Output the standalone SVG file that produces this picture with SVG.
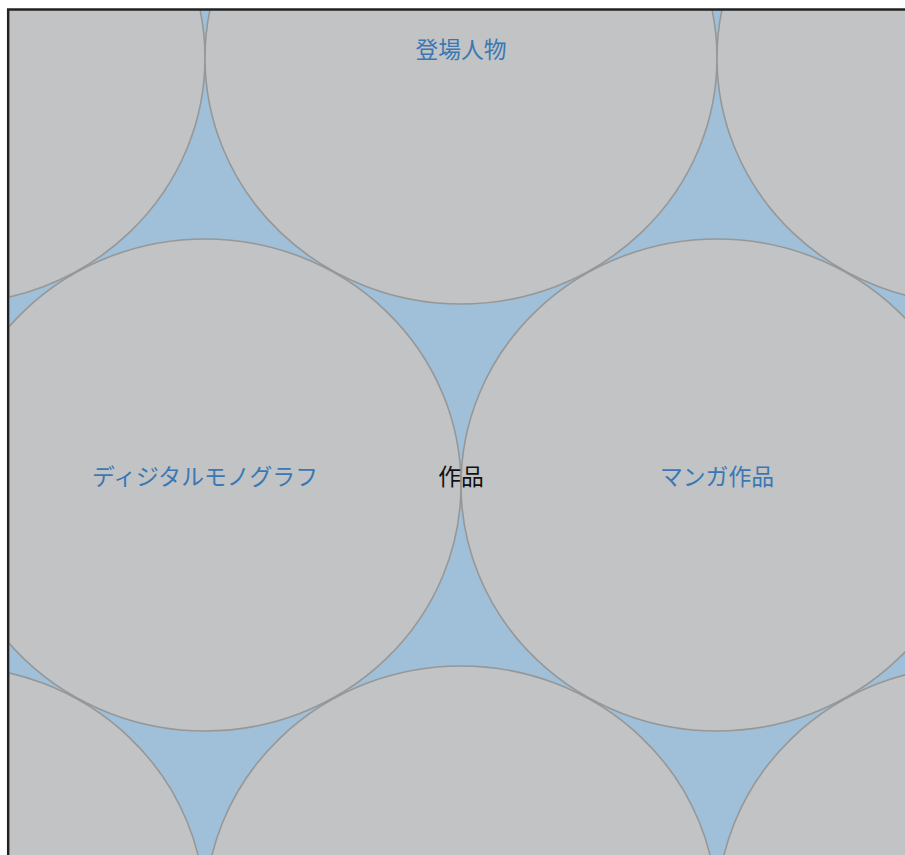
<svg xmlns="http://www.w3.org/2000/svg" width="905" height="855" viewBox="0 0 905 855">
<style>
.bg{fill:#9fc0d8}
.n ellipse{fill:#c2c3c5;stroke:#979797;stroke-width:1.6}
.lbl{font-family:"Noto Sans CJK JP","Noto Sans CJK SC",sans-serif;font-size:22.8px;text-anchor:middle;fill:#3a78b4}
.root{fill:#111}
</style>
<defs>
<clipPath id="clip"><rect x="9.5" y="10" width="900" height="850"/></clipPath>
</defs>
<rect width="905" height="855" fill="#fff"/>
<g clip-path="url(#clip)">
<rect class="bg" x="0" y="0" width="905" height="855"/>
<g id="nodes">
<g id="n-topleft" class="n"><ellipse cx="-51" cy="58" rx="256" ry="246"/></g>
<g id="n-characters" class="n"><ellipse cx="461" cy="58" rx="256" ry="246"/><text class="lbl" x="461" y="58">登場人物</text></g>
<g id="n-topright" class="n"><ellipse cx="973" cy="58" rx="256" ry="246"/></g>
<g id="n-midleft" class="n"><ellipse cx="-307" cy="485" rx="256" ry="246"/></g>
<g id="n-digital" class="n"><ellipse cx="205" cy="485" rx="256" ry="246"/><text class="lbl" x="205" y="485">ディジタルモノグラフ</text></g>
<g id="n-manga" class="n"><ellipse cx="717" cy="485" rx="256" ry="246"/><text class="lbl" x="717" y="485">マンガ作品</text></g>
<g id="n-midright" class="n"><ellipse cx="1229" cy="485" rx="256" ry="246"/></g>
<g id="n-botleft" class="n"><ellipse cx="-51" cy="912" rx="256" ry="246"/></g>
<g id="n-botcenter" class="n"><ellipse cx="461" cy="912" rx="256" ry="246"/></g>
<g id="n-botright" class="n"><ellipse cx="973" cy="912" rx="256" ry="246"/></g>
</g>
<g id="connectors"></g>
<g id="n-root"><text class="lbl root" x="461" y="485">作品</text></g>
</g>
<rect x="8.2" y="9.5" width="905" height="855" fill="none" stroke="#222" stroke-width="2.5"/>
</svg>
